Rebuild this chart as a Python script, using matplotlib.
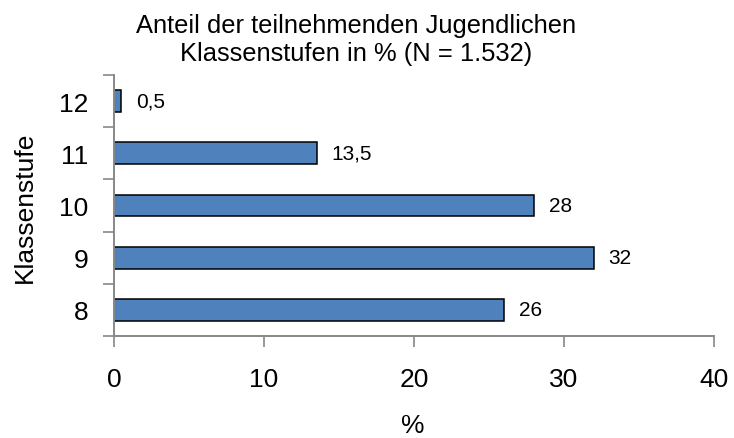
import matplotlib
matplotlib.use("Agg")
import matplotlib.pyplot as plt
import numpy as np

plt.rcParams["font.family"] = ["Liberation Sans", "DejaVu Sans"]

klassen = ["8", "9", "10", "11", "12"]
anteile = [26, 32, 28, 13.5, 0.5]
wert_labels = ["26", "32", "28", "13,5", "0,5"]
x_ticks = [0, 10, 20, 30, 40]

fig = plt.figure(figsize=(7.34, 4.39), dpi=100)
ax = fig.add_axes([114 / 734, 1 - 337 / 439, 600 / 734, 261 / 439])

y = np.arange(len(klassen))
ax.barh(y, anteile, height=0.42, color="#4F81BD", edgecolor="black", linewidth=1.1)

for yi, v, lab in zip(y, anteile, wert_labels):
    ax.annotate(lab, (v, yi), xytext=(10.5, 0), textcoords="offset points",
                ha="left", va="center", fontsize=15)

ax.set_xlim(0, 40)
ax.set_ylim(-0.5, len(klassen) - 0.5)
ax.set_xticks(x_ticks)
ax.set_xticklabels([str(t) for t in x_ticks], fontsize=19)
ax.set_yticks(y)
ax.set_yticklabels(klassen, fontsize=19)
ax.set_yticks(np.arange(-0.5, len(klassen)), minor=True)

ax.tick_params(axis="x", direction="out", length=8, width=1.2, color="#888888", pad=14)
ax.tick_params(axis="y", which="major", length=0, pad=18.5)
ax.tick_params(axis="y", which="minor", direction="out", length=8, width=1.2, color="#888888")

for s in ["top", "right"]:
    ax.spines[s].set_visible(False)
for s in ["left", "bottom"]:
    ax.spines[s].set_color("#888888")
    ax.spines[s].set_linewidth(1.4)

fig.text(25 / 734, 1 - 207 / 439, "Klassenstufe", fontsize=19, rotation=90,
         ha="center", va="center")
fig.text(413 / 734, 1 / 439, "%", fontsize=19, ha="center", va="bottom")

fig.text(356 / 734, 1 - 33 / 439, "Anteil der teilnehmenden Jugendlichen",
         fontsize=18.4, ha="center", va="baseline")
fig.text(356 / 734, 1 - 61 / 439, "Klassenstufen in % (N = 1.532)",
         fontsize=18.4, ha="center", va="baseline")

fig.savefig("out.png", dpi=100)
